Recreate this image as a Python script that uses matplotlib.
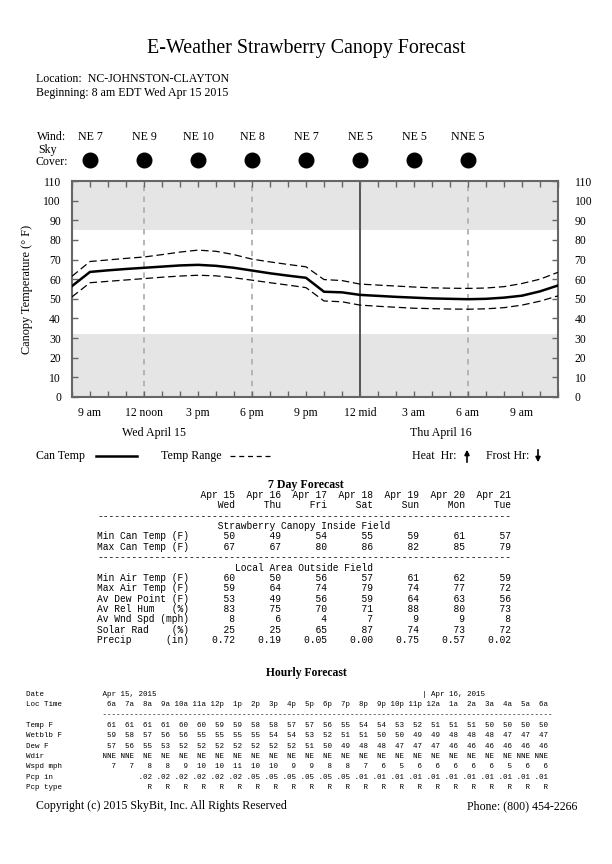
import matplotlib
matplotlib.use('Agg')
import matplotlib.pyplot as plt
from matplotlib.transforms import blended_transform_factory
from matplotlib.patches import FancyArrowPatch
from matplotlib.lines import Line2D

W, H = 612, 864
SERIF = ['Liberation Serif', 'DejaVu Serif']
MONO = ['Liberation Mono', 'DejaVu Sans Mono']
plt.rcParams['font.family'] = SERIF

# ---------------- data ----------------
hours = list(range(28))  # hours since 8 am EDT Wed Apr 15
can_temp = [56.5, 63.7, 64.5, 65.2, 65.8, 66.4, 67.0, 67.3, 66.8, 65.8, 64.4, 63.0,
            61.8, 60.7, 53.6, 53.3, 52.0, 51.5, 51.0, 50.6, 50.2, 50.0, 49.8, 50.0,
            50.6, 51.6, 53.8, 56.8]
temp_hi = [61.5, 69.0, 69.8, 70.6, 71.3, 72.5, 73.8, 74.8, 74.2, 72.5, 70.2, 68.8,
           67.5, 66.3, 59.8, 59.3, 57.5, 57.0, 56.5, 56.0, 55.6, 55.4, 55.3, 55.5,
           56.2, 57.8, 60.0, 63.5]
temp_lo = [51.0, 58.2, 58.9, 59.6, 60.3, 61.0, 61.6, 62.0, 61.7, 60.7, 59.5, 58.2,
           57.0, 55.7, 48.9, 48.5, 46.8, 46.2, 45.7, 45.2, 45.0, 44.8, 44.7, 44.9,
           45.5, 46.8, 48.8, 51.5]
xtick_hours = [1, 4, 7, 10, 13, 16, 19, 22, 25]
xtick_labels = ['9 am', '12 noon', '3 pm', '6 pm', '9 pm', '12 mid', '3 am', '6 am', '9 am']
wind_hours = [1, 4, 7, 10, 13, 16, 19, 22]
wind_labels = ['NE 7', 'NE 9', 'NE 10', 'NE 8', 'NE 7', 'NE 5', 'NE 5', 'NNE 5']

day_dates = ['Apr 15', 'Apr 16', 'Apr 17', 'Apr 18', 'Apr 19', 'Apr 20', 'Apr 21']
day_names = ['Wed', 'Thu', 'Fri', 'Sat', 'Sun', 'Mon', 'Tue']
min_can = [50, 49, 54, 55, 59, 61, 57]
max_can = [67, 67, 80, 86, 82, 85, 79]
min_air = [60, 50, 56, 57, 61, 62, 59]
max_air = [59, 64, 74, 79, 74, 77, 72]
dew_pt = [53, 49, 56, 59, 64, 63, 56]
rel_hum = [83, 75, 70, 71, 88, 80, 73]
wnd_spd = [8, 6, 4, 7, 9, 9, 8]
solar = [25, 25, 65, 87, 74, 73, 72]
precip = [0.72, 0.19, 0.05, 0.00, 0.75, 0.57, 0.02]

hr_times = ['6a', '7a', '8a', '9a', '10a', '11a', '12p', '1p', '2p', '3p', '4p', '5p',
            '6p', '7p', '8p', '9p', '10p', '11p', '12a', '1a', '2a', '3a', '4a', '5a', '6a']
hr_temp = [61, 61, 61, 61, 60, 60, 59, 59, 58, 58, 57, 57, 56, 55, 54, 54, 53, 52,
           51, 51, 51, 50, 50, 50, 50]
hr_wetblb = [59, 58, 57, 56, 56, 55, 55, 55, 55, 54, 54, 53, 52, 51, 51, 50, 50, 49,
             49, 48, 48, 48, 47, 47, 47]
hr_dew = [57, 56, 55, 53, 52, 52, 52, 52, 52, 52, 52, 51, 50, 49, 48, 48, 47, 47,
          47, 46, 46, 46, 46, 46, 46]
hr_wdir = ['NNE', 'NNE'] + ['NE'] * 21 + ['NNE', 'NNE']
hr_wspd = [7, 7, 8, 8, 9, 10, 10, 11, 10, 10, 9, 9, 8, 8, 7, 6, 5, 6, 6, 6, 6, 6, 5, 6, 6]
hr_pcp = ['', ''] + ['.02'] * 6 + ['.05'] * 6 + ['.01'] * 11
hr_ptype = ['', ''] + ['R'] * 23

# ---------------- figure ----------------
fig = plt.figure(figsize=(6.12, 8.64), dpi=100)


def fx(x):
    return x / W


def fy(y):
    return 1 - y / H


def ftext(x, y, s, **kw):
    kw.setdefault('fontsize', 8.6)
    kw.setdefault('va', 'center')
    fig.text(fx(x), fy(y), s, **kw)


ftext(306, 48, 'E-Weather Strawberry Canopy Forecast', fontsize=14.4, ha='center')
ftext(36, 79, 'Location:  NC-JOHNSTON-CLAYTON')
ftext(36, 93, 'Beginning: 8 am EDT Wed Apr 15 2015')

# axes
ax = fig.add_axes([fx(72), fy(397), fx(558) - fx(72), (397 - 181) / H])
ax.set_xlim(0, 27)
ax.set_ylim(0, 110)
ax.axhspan(0, 32, color='#e5e5e5', lw=0, zorder=0)
ax.axhspan(85, 110, color='#e5e5e5', lw=0, zorder=0)
for h in [4, 10, 22]:
    ax.axvline(h, color='#b0b0b0', lw=1.3, ls=(0, (3, 3)), zorder=1)
ax.axvline(16, color='#555555', lw=1.4, zorder=1)
ax.plot(hours, temp_hi, color='black', lw=0.9, ls=(0, (6, 3)), zorder=3)
ax.plot(hours, temp_lo, color='black', lw=0.9, ls=(0, (6, 3)), zorder=3)
ax.plot(hours, can_temp, color='black', lw=1.8, zorder=4)

ax.set_xticks(hours)
ax.set_xticklabels([xtick_labels[xtick_hours.index(h)] if h in xtick_hours else '' for h in hours])
ax.set_yticks(range(0, 111, 10))
ax.tick_params(axis='x', direction='in', top=True, bottom=True, length=4, width=1,
               color='#666666', labelsize=8.4, pad=7)
ax.tick_params(axis='y', direction='in', left=True, right=False, length=4, width=1,
               color='#666666', labelsize=8.4, pad=8)
for sp in ax.spines.values():
    sp.set_color('#666666')
    sp.set_linewidth(1.5)
ax2 = ax.twinx()
ax2.set_ylim(0, 110)
ax2.set_yticks(range(0, 111, 10))
ax2.tick_params(axis='y', direction='in', right=True, length=4, width=1,
                color='#666666', labelsize=8.4, pad=12)
for sp in ax2.spines.values():
    sp.set_visible(False)

ftext(27, 289, 'Canopy Temperature (° F)', rotation=90, ha='center', fontsize=8.8)

# wind & sky cover
bt = blended_transform_factory(ax.transData, fig.transFigure)
ftext(37, 137, 'Wind:')
for h, lab in zip(wind_hours, wind_labels):
    ax.text(h, fy(137), lab, transform=bt, ha='center', va='center', fontsize=8.6)
ftext(48, 150, 'Sky', ha='center')
ftext(52, 162, 'Cover:', ha='center')
ax.plot(wind_hours, [fy(160)] * len(wind_hours), 'o', color='black', ms=10.5,
        transform=bt, clip_on=False)

# day labels
ftext(154, 433, 'Wed April 15', ha='center')
ftext(441, 433, 'Thu April 16', ha='center')

# legend row
ftext(36, 456, 'Can Temp')
fig.add_artist(Line2D([fx(96), fx(137)], [fy(456)] * 2, color='black', lw=1.8))
ftext(161, 456, 'Temp Range')
fig.add_artist(Line2D([fx(230), fx(272)], [fy(456)] * 2, color='black', lw=0.9,
                      ls=(0, (4, 3))))
ftext(412, 456, 'Heat  Hr:')
ftext(486, 456, 'Frost Hr:')
fig.add_artist(FancyArrowPatch((fx(467), fy(465)), (fx(467), fy(447)),
                               transform=fig.transFigure, arrowstyle='-|>',
                               mutation_scale=7, color='black', lw=1.2))
fig.add_artist(FancyArrowPatch((fx(538), fy(447)), (fx(538), fy(465)),
                               transform=fig.transFigure, arrowstyle='-|>',
                               mutation_scale=7, color='black', lw=1.2))

# 7 day forecast table
ftext(306, 485, '7 Day Forecast', ha='center', fontweight='bold', fontsize=8.6)


def drow(label, vals, fmt='{}'):
    return f'{label:<16s}' + ''.join(f'{fmt.format(v):>8s}' for v in vals)


lines7 = [
    drow('', day_dates),
    drow('', day_names),
    '-' * 72,
    ' ' * 21 + 'Strawberry Canopy Inside Field',
    drow('Min Can Temp (F)', min_can),
    drow('Max Can Temp (F)', max_can),
    '-' * 72,
    ' ' * 24 + 'Local Area Outside Field',
    drow('Min Air Temp (F)', min_air),
    drow('Max Air Temp (F)', max_air),
    drow('Av Dew Point (F)', dew_pt),
    drow('Av Rel Hum   (%)', rel_hum),
    drow('Av Wnd Spd (mph)', wnd_spd),
    drow('Solar Rad    (%)', solar),
    drow('Precip      (in)', precip, '{:.2f}'),
]
for i, s in enumerate(lines7):
    ftext(97, 495 + i * 10.36, s, family=MONO, fontsize=6.95)

# hourly forecast table
ftext(306, 673, 'Hourly Forecast', ha='center', fontweight='bold', fontsize=8.4)


def hrow(label, vals):
    return f'{label:<16s}' + ''.join(f'{str(v):>4s}' for v in vals)


date_line = f'{"Date":<17s}' + 'Apr 15, 2015'
date_line = f'{date_line:<88s}' + '| Apr 16, 2015'
lines_h = [
    date_line,
    hrow('Loc Time', hr_times),
    ' ' * 17 + '-' * 100,
    hrow('Temp F', hr_temp),
    hrow('Wetblb F', hr_wetblb),
    hrow('Dew F', hr_dew),
    hrow('Wdir', hr_wdir),
    hrow('Wspd mph', hr_wspd),
    hrow('Pcp in', hr_pcp),
    hrow('Pcp type', hr_ptype),
]
for i, s in enumerate(lines_h):
    ftext(26, 694 + i * 10.4, s, family=MONO, fontsize=5.42)

# footer
ftext(36, 806, 'Copyright (c) 2015 SkyBit, Inc. All Rights Reserved')
ftext(577, 806, 'Phone: (800) 454-2266', ha='right')

fig.savefig('out.png', dpi=100)
